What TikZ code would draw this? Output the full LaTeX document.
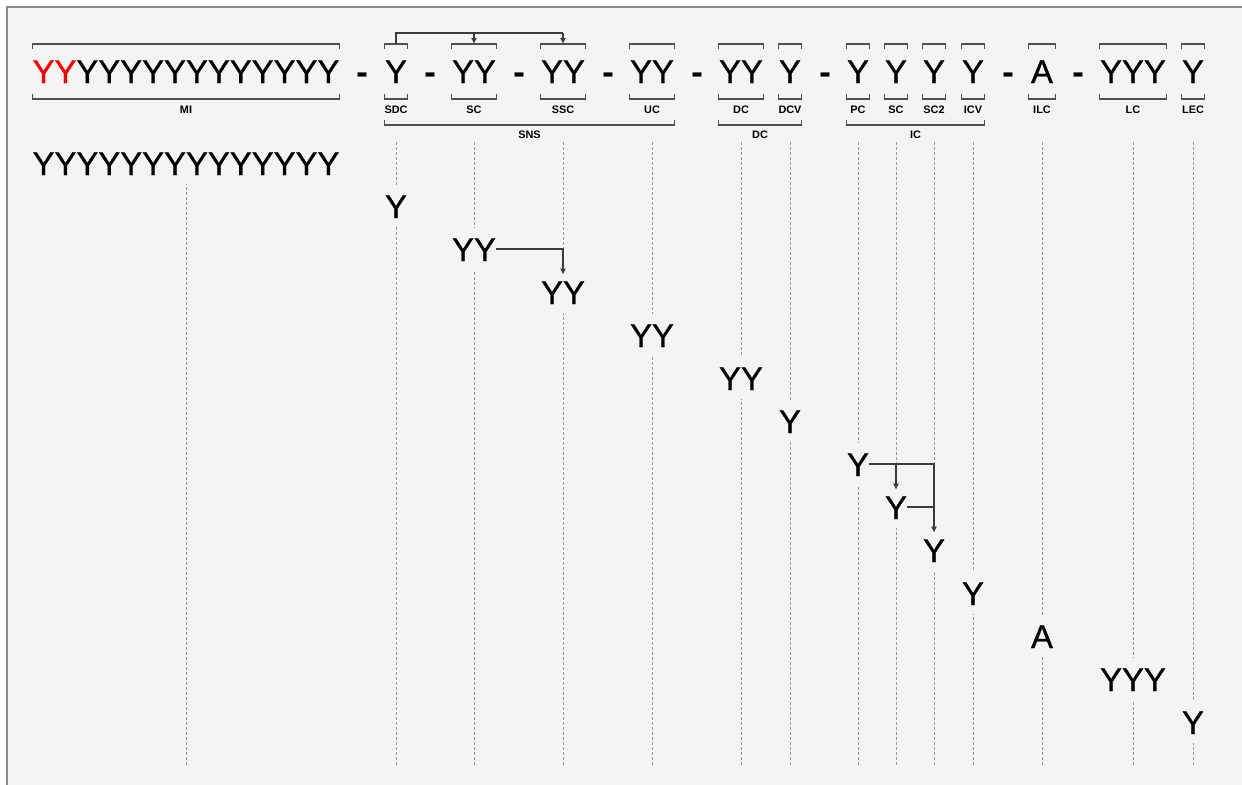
\documentclass[tikz,border=0pt]{standalone}
\usepackage{fontspec}
\setmainfont{Liberation Sans}
\newfontfamily\heavyfont[FakeBold=0.8]{Liberation Sans}
\usetikzlibrary{arrows.meta,positioning,calc}
\definecolor{PanelGrey}{HTML}{F4F4F4}
\definecolor{FrameGrey}{HTML}{8C8C8C}
\definecolor{BrkGrey}{HTML}{505050}
\definecolor{GuideGrey}{HTML}{9A9A9A}
\definecolor{LinkGrey}{HTML}{3C3C3C}
\newcommand{\bigtext}{\heavyfont\fontsize{18.7pt}{20pt}\selectfont}
\newcommand{\smalltext}{\fontsize{6.2pt}{7pt}\selectfont\bfseries}

\begin{document}
\begin{tikzpicture}[
    x=0.02cm,y=-0.02cm,
    big/.style={font=\bigtext,inner sep=0pt,anchor=base},
    stair/.style={big,fill=PanelGrey,text height=0.66cm,text depth=0.18cm},
    hyph/.style={font=\bigtext\bfseries,inner sep=0pt,anchor=base},
    lbl/.style={font=\smalltext,inner sep=0pt,anchor=base},
    brk/.style={BrkGrey,line width=0.6pt},
    guide/.style={GuideGrey,line width=0.5pt,dash pattern=on 0.06cm off 0.04cm},
    link/.style={LinkGrey,line width=0.6pt},
    arr/.style={link,-{Latex[length=1.2mm,width=1.2mm]}}
  ]
    \useasboundingbox (0,0) rectangle (1242,785);
    \fill[PanelGrey] (7,7) rectangle (1242,785);
    \draw[FrameGrey,line width=1.1pt] (1242,7) -- (7,7) -- (7,785);

    % levels
    \coordinate (ytop) at (0,44);
    \coordinate (yarc) at (0,33);
    \coordinate (ybot) at (0,99);
    \coordinate (ylab) at (0,113);
    \coordinate (ygrp) at (0,125);
    \coordinate (ygl) at (0,138);
    \coordinate (gtop) at (0,142);
    \coordinate (gbot) at (0,765);

    % top row
    \node[big] (mi) at (186,83) {{\color{red}YY}YYYYYYYYYYYY};
    \node[hyph] (h1) at (362,83) {-};
    \node[big] (sdc) at (396,83) {Y};
    \node[hyph] (h2) at (430,83) {-};
    \node[big] (sc) at (474,83) {YY};
    \node[hyph] (h3) at (519,83) {-};
    \node[big] (ssc) at (563,83) {YY};
    \node[hyph] (h4) at (608,83) {-};
    \node[big] (uc) at (652,83) {YY};
    \node[hyph] (h5) at (697,83) {-};
    \node[big] (dc) at (741,83) {YY};
    \node[big] (dcv) at (790,83) {Y};
    \node[hyph] (h6) at (825,83) {-};
    \node[big] (pc) at (858,83) {Y};
    \node[big] (sci) at (896,83) {Y};
    \node[big] (sc2) at (934,83) {Y};
    \node[big] (icv) at (973,83) {Y};
    \node[hyph] (h7) at (1008,83) {-};
    \node[big,minimum width=0.52cm] (ilc) at (1042,83) {A};
    \node[hyph] (h8) at (1078,83) {-};
    \node[big] (lc) at (1133,83) {YYY};
    \node[big] (lec) at (1193,83) {Y};

    % brackets and their labels
    \foreach \n/\t in {mi/MI,sdc/SDC,sc/SC,ssc/SSC,uc/UC,dc/DC,dcv/DCV,pc/PC,sci/SC,sc2/SC2,icv/ICV,ilc/ILC,lc/LC,lec/LEC}{
      \draw[brk] (\n.west |- ytop) ++(0,5) -- (\n.west |- ytop) -- (\n.east |- ytop) -- ++(0,5);
      \draw[brk] (\n.west |- ybot) ++(0,-5) -- (\n.west |- ybot) -- (\n.east |- ybot) -- ++(0,-5);
      \node[lbl] (l\n) at (\n |- ylab) {\t};
    }

    % group brackets
    \foreach \a/\b/\g/\t in {sdc/uc/sns/SNS,dc/dcv/dcg/DC,pc/icv/icg/IC}{
      \draw[brk] (\a.west |- ygrp) ++(0,-5) -- (\a.west |- ygrp) -- (\b.east |- ygrp) -- ++(0,-5);
      \node[lbl] (l\g) at ($(\a.west |- ygl)!0.5!(\b.east |- ygl)$) {\t};
    }

    % top connector
    \draw[link] (sdc |- ytop) -- (sdc |- yarc) -- (ssc |- yarc);
    \draw[arr] (sc |- yarc) -- (sc |- ytop);
    \draw[arr] (ssc |- yarc) -- (ssc |- ytop);

    % guides
    \foreach \n in {mi,sdc,sc,ssc,uc,dc,dcv,pc,sci,sc2,icv,ilc,lc,lec}
      \draw[guide] (\n |- gtop) -- (\n |- gbot);

    % staircase
    \node[stair] (rmi) at (mi |- 0,175) {YYYYYYYYYYYYYY};
    \foreach \n/\t/\y in {sdc/Y/218,sc/YY/261,ssc/YY/304,uc/YY/347,dc/YY/390,dcv/Y/433,pc/Y/476,sci/Y/519,sc2/Y/562,icv/Y/605,ilc/A/648,lc/YYY/691,lec/Y/734}
      \node[stair] (r\n) at (\n |- 0,\y) {\t};

    \draw[arr,shorten >=-0.08cm] (rsc.east) -| (rssc.north);
    \draw[arr,shorten >=-0.08cm] (rpc.east) -| (rsc2.north);
    \draw[arr,shorten >=-0.08cm] (rsci |- rpc.east) -- (rsci.north);
    \draw[link] (rsci.east) -- (rsc2 |- rsci.east);
  \end{tikzpicture}
\end{document}
